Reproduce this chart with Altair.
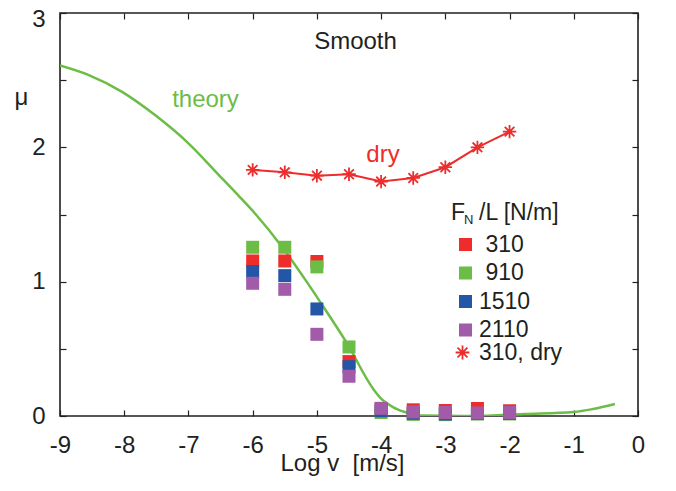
import altair as alt
import pandas as pd

# ---------------- data ----------------
x_vals = [-6.0, -5.5, -5.0, -4.5, -4.0, -3.5, -3.0, -2.5, -2.0]
mu_310 = [1.154, 1.154, 1.15, 0.405, 0.052, 0.046, 0.041, 0.056, 0.039]
mu_910 = [1.256, 1.256, 1.11, 0.514, 0.026, 0.012, 0.01, 0.015, 0.015]
mu_1510 = [1.075, 1.045, 0.797, 0.367, 0.039, 0.02, 0.015, 0.018, 0.02]
mu_2110 = [0.988, 0.943, 0.608, 0.296, 0.057, 0.03, 0.026, 0.022, 0.026]
mu_dry = [1.832, 1.814, 1.789, 1.80, 1.745, 1.772, 1.852, 2.0, 2.117]

theory_x = [-9.0, -8.56, -8.04, -7.52, -7.0, -6.48, -6.2, -5.95, -5.56, -5.16,
            -4.95, -4.53, -4.12, -4.0, -3.91, -3.7, -3.63, -3.34, -2.56,
            -1.78, -1.0, -0.7, -0.36]
theory_mu = [2.61, 2.54, 2.415, 2.24, 2.03, 1.77, 1.63, 1.50, 1.27, 1.0,
             0.85, 0.54, 0.2, 0.13, 0.095, 0.04, 0.03, 0.003, 0.0,
             0.015, 0.03, 0.052, 0.089]

series_labels = ["\u200b\u00a0310", "\u200b\u00a0910", "1510", "2110"]
series_colors = ["#EE2C2C", "#6CBD45", "#2356A6", "#A25BA8"]
dry_label = ["310, dry"]

RED = "#EE2C2C"
GREEN = "#6CBD45"
INK = "#231F20"
FONT = "Liberation Sans"

# ---------------- tables ----------------
rows = []
for lab, mus in zip(series_labels, [mu_310, mu_910, mu_1510, mu_2110]):
    for xv, mv in zip(x_vals, mus):
        rows.append({"series": lab, "x": xv, "mu": mv})
squares_df = pd.DataFrame(rows)
dry_df = pd.DataFrame({"x": x_vals, "mu": mu_dry, "series": dry_label * len(x_vals)})
theory_df = pd.DataFrame({"x": theory_x, "mu": theory_mu})

xscale = alt.Scale(domain=[-9, 0], nice=False, zero=False)
yscale = alt.Scale(domain=[0, 3], nice=False, zero=False)

inward = alt.ExprRef(expr="-6")

axis_bottom = alt.Axis(
    orient="bottom", values=list(range(-9, 1)), labelExpr="'' + datum.value",
    tickSize=inward, tickColor=INK, tickWidth=1.2, domain=False, grid=False,
    labelFont=FONT, labelFontSize=24, labelColor=INK, labelPadding=23,
    labelFlush=False, labelOverlap=False,
    title="Log v \u00a0[m/s]", titleFont=FONT, titleFontSize=24, titleColor=INK,
    titleFontWeight="normal", titleX=282, titleY=54, titleBaseline="alphabetic",
    titleAlign="center", titleAnchor="start",
)
axis_left = alt.Axis(
    orient="left", values=[0, 0.5, 1, 1.5, 2, 2.5, 3],
    labelExpr="datum.value % 1 === 0 ? '' + datum.value : ''",
    labelOffset={"condition": {"test": "datum.value === 3", "value": 6}, "value": 0},
    tickSize=inward, tickColor=INK, tickWidth=1.2, domain=False, grid=False,
    labelFont=FONT, labelFontSize=24, labelColor=INK, labelPadding=21,
    labelFlush=False, labelOverlap=False,
    title="\u03bc", titleFont=FONT, titleFontSize=24, titleColor=INK,
    titleFontWeight="normal", titleAngle=0, titleX=-39, titleY=84,
    titleBaseline="middle", titleAlign="center", titleAnchor="start",
)
axis_top = alt.Axis(
    orient="top", values=list(range(-9, 1)), labels=False, title=None,
    tickSize=inward, tickColor=INK, tickWidth=1.2, domain=False, grid=False,
)
axis_right = alt.Axis(
    orient="right", values=[0, 0.5, 1, 1.5, 2, 2.5, 3], labels=False, title=None,
    tickSize=inward, tickColor=INK, tickWidth=1.2, domain=False, grid=False,
)

theory = alt.Chart(theory_df).mark_line(
    color=GREEN, strokeWidth=2.5, interpolate="monotone", clip=True
).encode(
    x=alt.X("x:Q", scale=xscale, axis=axis_bottom),
    y=alt.Y("mu:Q", scale=yscale, axis=axis_left),
)

dry_line = alt.Chart(dry_df).mark_line(color=RED, strokeWidth=2).encode(
    x=alt.X("x:Q", scale=xscale, axis=axis_top),
    y=alt.Y("mu:Q", scale=yscale, axis=axis_right),
)

asterisk = "M-1,0L1,0M0,-1L0,1M-0.72,-0.72L0.72,0.72M-0.72,0.72L0.72,-0.72"

dry_pts = alt.Chart(dry_df).mark_point(
    filled=False, color=RED, strokeWidth=1.8, size=180, opacity=1
).encode(
    x=alt.X("x:Q", scale=xscale, axis=None),
    y=alt.Y("mu:Q", scale=yscale, axis=None),
    shape=alt.Shape(
        "series:N",
        scale=alt.Scale(domain=dry_label, range=[asterisk]),
        legend=alt.Legend(
            orient="none", legendX=391, legendY=328, title=None, padding=0,
            symbolSize=190, symbolStrokeColor=RED, symbolFillColor="transparent",
            symbolStrokeWidth=1.8, labelFont=FONT, labelFontSize=23,
            labelColor=INK, labelOffset=5, labelLimit=300,
        ),
    ),
)

squares = alt.Chart(squares_df).mark_point(
    filled=True, shape="square", size=169, opacity=1, strokeWidth=0
).encode(
    x=alt.X("x:Q", scale=xscale, axis=None),
    y=alt.Y("mu:Q", scale=yscale, axis=None),
    color=alt.Color(
        "series:N",
        scale=alt.Scale(domain=series_labels, range=series_colors),
        legend=alt.Legend(
            orient="none", legendX=394, legendY=220, title=None, padding=0,
            symbolType="square", symbolSize=169, symbolStrokeWidth=0,
            symbolOpacity=1, labelFont=FONT, labelFontSize=23, labelColor=INK,
            labelOffset=2, rowPadding=4.5,
        ),
    ),
)


def label(text, px, py, color, size=24, align="center"):
    return alt.Chart(pd.DataFrame({"t": [text]})).mark_text(
        font=FONT, fontSize=size, color=color, align=align, baseline="alphabetic"
    ).encode(text="t:N", x=alt.value(px), y=alt.value(py))


texts = [
    label("Smooth", 295.5, 35.5, INK),
    label("theory", 145.5, 94, GREEN),
    label("dry", 323, 148.7, RED),
    label("F", 391, 207, INK, 23, "left"),
    label("N", 404, 210.5, INK, 13, "left"),
    label("/L [N/m]", 419, 207, INK, 23, "left"),
]

chart = alt.layer(theory, dry_line, dry_pts, squares, *texts).resolve_axis(
    x="independent", y="independent"
).properties(
    width=578, height=403,
    autosize=alt.AutoSizeParams(type="none"),
    padding={"left": 52, "top": 5, "right": 30, "bottom": 70},
).configure_view(stroke=INK, strokeWidth=1.6)

chart.save("out.html", embed_options={"renderer": "svg", "actions": False})
